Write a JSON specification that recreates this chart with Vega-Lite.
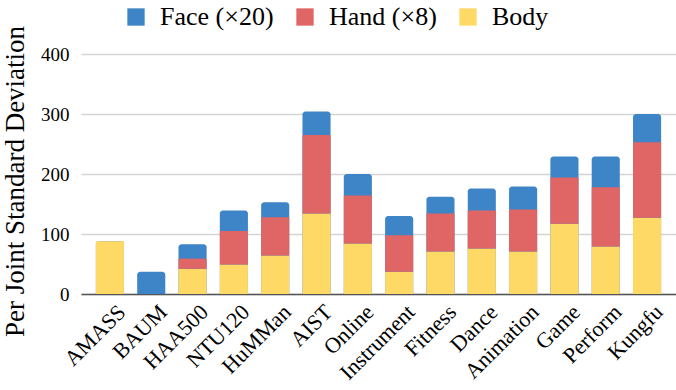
{
  "$schema": "https://vega.github.io/schema/vega-lite/v6.json",
  "autosize": {"type": "none"},
  "width": 595,
  "height": 240,
  "padding": {"left": 81, "top": 54, "right": 0, "bottom": 96},
  "background": "white",
  "data": {
    "values": [
      {"dataset": "AMASS", "series": "Body", "value": 88},
      {"dataset": "AMASS", "series": "Hand (×8)", "value": 0},
      {"dataset": "AMASS", "series": "Face (×20)", "value": 0},
      {"dataset": "BAUM", "series": "Body", "value": 0},
      {"dataset": "BAUM", "series": "Hand (×8)", "value": 0},
      {"dataset": "BAUM", "series": "Face (×20)", "value": 37},
      {"dataset": "HAA500", "series": "Body", "value": 42},
      {"dataset": "HAA500", "series": "Hand (×8)", "value": 17},
      {"dataset": "HAA500", "series": "Face (×20)", "value": 24},
      {"dataset": "NTU120", "series": "Body", "value": 49},
      {"dataset": "NTU120", "series": "Hand (×8)", "value": 56},
      {"dataset": "NTU120", "series": "Face (×20)", "value": 34},
      {"dataset": "HuMMan", "series": "Body", "value": 64},
      {"dataset": "HuMMan", "series": "Hand (×8)", "value": 64},
      {"dataset": "HuMMan", "series": "Face (×20)", "value": 25},
      {"dataset": "AIST", "series": "Body", "value": 134},
      {"dataset": "AIST", "series": "Hand (×8)", "value": 131},
      {"dataset": "AIST", "series": "Face (×20)", "value": 39},
      {"dataset": "Online", "series": "Body", "value": 84},
      {"dataset": "Online", "series": "Hand (×8)", "value": 80},
      {"dataset": "Online", "series": "Face (×20)", "value": 36},
      {"dataset": "Instrument", "series": "Body", "value": 37},
      {"dataset": "Instrument", "series": "Hand (×8)", "value": 61},
      {"dataset": "Instrument", "series": "Face (×20)", "value": 32},
      {"dataset": "Fitness", "series": "Body", "value": 71},
      {"dataset": "Fitness", "series": "Hand (×8)", "value": 63},
      {"dataset": "Fitness", "series": "Face (×20)", "value": 28},
      {"dataset": "Dance", "series": "Body", "value": 76},
      {"dataset": "Dance", "series": "Hand (×8)", "value": 63},
      {"dataset": "Dance", "series": "Face (×20)", "value": 37},
      {"dataset": "Animation", "series": "Body", "value": 71},
      {"dataset": "Animation", "series": "Hand (×8)", "value": 70},
      {"dataset": "Animation", "series": "Face (×20)", "value": 38},
      {"dataset": "Game", "series": "Body", "value": 117},
      {"dataset": "Game", "series": "Hand (×8)", "value": 77},
      {"dataset": "Game", "series": "Face (×20)", "value": 35},
      {"dataset": "Perform", "series": "Body", "value": 79},
      {"dataset": "Perform", "series": "Hand (×8)", "value": 99},
      {"dataset": "Perform", "series": "Face (×20)", "value": 51},
      {"dataset": "Kungfu", "series": "Body", "value": 127},
      {"dataset": "Kungfu", "series": "Hand (×8)", "value": 126},
      {"dataset": "Kungfu", "series": "Face (×20)", "value": 47}
    ]
  },
  "encoding": {
    "x": {
      "field": "dataset",
      "type": "nominal",
      "sort": null,
      "scale": {"paddingInner": 0.32, "paddingOuter": 0.36},
      "axis": {
        "title": null,
        "labelAngle": -45,
        "labelFontSize": 22,
        "labelColor": "#000000",
        "labelPadding": 7,
        "labelOffset": 5,
        "ticks": false,
        "domain": true,
        "domainColor": "#555555",
        "domainWidth": 1.5,
        "grid": false
      }
    }
  },
  "layer": [
    {
      "mark": {"type": "bar", "color": "#3d85c6", "cornerRadiusTopLeft": 3, "cornerRadiusTopRight": 3},
      "encoding": {
        "y": {
          "aggregate": "sum",
          "field": "value",
          "type": "quantitative",
          "scale": {"domain": [0, 400]},
          "axis": {
            "title": "Per Joint Standard Deviation",
            "titleFontSize": 27,
            "titleFontWeight": "normal",
            "titleColor": "#000000",
            "titlePadding": 11,
            "titleY": 127,
            "labelFontSize": 19,
            "labelColor": "#000000",
            "labelPadding": 12,
            "values": [0, 100, 200, 300, 400],
            "ticks": false,
            "domain": false,
            "grid": true,
            "gridColor": "#d4d4d4",
            "gridWidth": 1.5
          }
        }
      }
    },
    {
      "transform": [{"filter": "datum.series !== 'Face (×20)'"}],
      "mark": {"type": "bar"},
      "encoding": {
        "y": {"field": "value", "type": "quantitative", "stack": "zero"},
        "order": {"field": "series", "sort": "ascending"},
        "color": {
          "field": "series",
          "type": "nominal",
          "scale": {
            "domain": ["Face (×20)", "Hand (×8)", "Body"],
            "range": ["#3d85c6", "#e06666", "#ffd966"]
          },
          "legend": {
            "title": null,
            "orient": "none",
            "direction": "horizontal",
            "legendX": 42,
            "legendY": -50,
            "symbolType": "square",
            "symbolSize": 300,
            "symbolStrokeWidth": 0,
            "symbolOpacity": 1,
            "labelFontSize": 26,
            "labelColor": "#000000",
            "labelOffset": 11,
            "columnPadding": 18
          }
        }
      }
    }
  ],
  "config": {
    "font": "'Liberation Serif', 'Times New Roman', Times, serif",
    "view": {"stroke": null}
  }
}
